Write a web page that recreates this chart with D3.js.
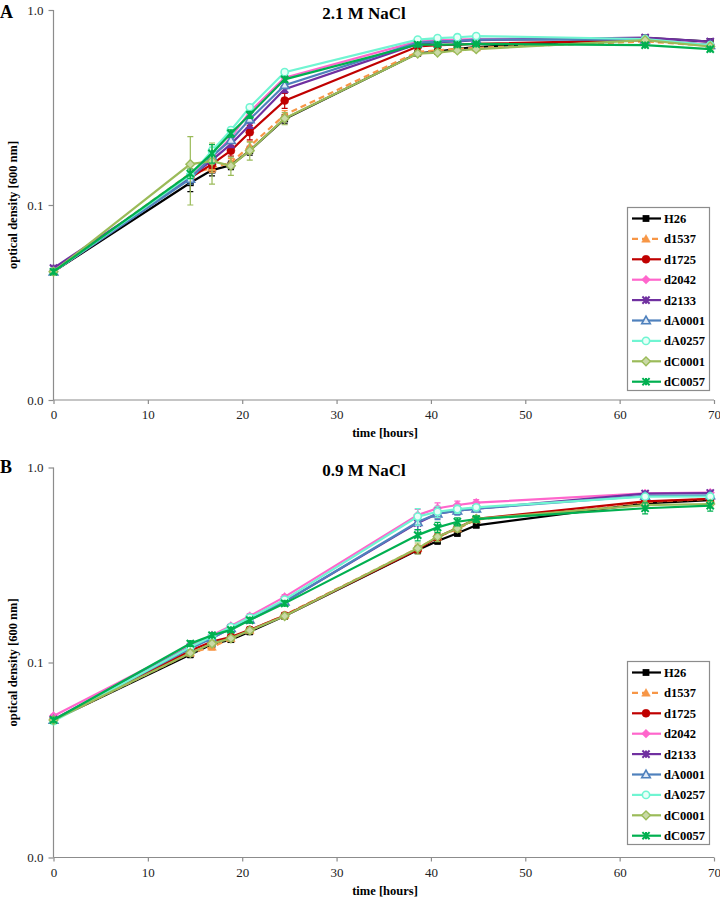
<!DOCTYPE html>
<html>
<head>
<meta charset="utf-8">
<script src="https://cdn.jsdelivr.net/npm/d3@7"></script>
<style>
  body { margin: 0; background: #fff; }
  svg { display: block; }
  text { font-family: "Liberation Serif", "Times New Roman", serif; }
</style>
</head>
<body>
<svg id="chart" width="720" height="897"></svg>
<script>
// ---------------- DATA ----------------
const times = [0, 14.5, 16.8, 18.8, 20.8, 24.5, 38.6, 40.7, 42.8, 44.8, 62.7, 69.6];
const strains = ["H26", "d1537", "d1725", "d2042", "d2133", "dA0001", "dA0257", "dC0001", "dC0057"];
const xTicks = [0, 10, 20, 30, 40, 50, 60, 70];
const yTicks = [1, 0.1, 0.01];
const yTickLabels = ["1.0", "0.1", "0.0"];
const panelLetters = ["A", "B"];
const panelTitles = ["2.1 M NaCl", "0.9 M NaCl"];

// Panel A (2.1 M NaCl) – OD600
const A_H26    = [0.0455, 0.130, 0.151, 0.160, 0.190, 0.276, 0.600, 0.612, 0.632, 0.645, 0.720, 0.688];
const A_d1537  = [0.0455, 0.145, 0.155, 0.165, 0.200, 0.290, 0.610, 0.622, 0.632, 0.640, 0.690, 0.655];
const A_d1725  = [0.0455, 0.138, 0.162, 0.190, 0.236, 0.343, 0.650, 0.660, 0.665, 0.670, 0.700, 0.660];
const A_d2042  = [0.0460, 0.140, 0.175, 0.222, 0.300, 0.450, 0.690, 0.700, 0.705, 0.710, 0.712, 0.665];
const A_d2133  = [0.0475, 0.139, 0.170, 0.205, 0.257, 0.392, 0.670, 0.685, 0.690, 0.700, 0.722, 0.688];
const A_dA0001 = [0.0455, 0.136, 0.178, 0.215, 0.275, 0.412, 0.680, 0.690, 0.695, 0.705, 0.705, 0.660];
const A_dA0257 = [0.0455, 0.142, 0.190, 0.242, 0.317, 0.480, 0.705, 0.718, 0.725, 0.735, 0.710, 0.660];
const A_dC0001 = [0.0455, 0.162, 0.168, 0.159, 0.190, 0.278, 0.598, 0.605, 0.620, 0.630, 0.700, 0.650];
const A_dC0057 = [0.0455, 0.145, 0.184, 0.233, 0.290, 0.441, 0.665, 0.665, 0.665, 0.670, 0.660, 0.630];

// Panel A – standard deviations
const A_H26_sd    = [0.001, 0.013, 0.010, 0.008, 0.010, 0.015, 0.010, 0.010, 0.010, 0.010, 0.012, 0.012];
const A_d1537_sd  = [0.001, 0.008, 0.008, 0.008, 0.012, 0.015, 0.010, 0.010, 0.010, 0.010, 0.010, 0.010];
const A_d1725_sd  = [0.001, 0.006, 0.008, 0.012, 0.020, 0.030, 0.010, 0.010, 0.010, 0.010, 0.010, 0.010];
const A_d2042_sd  = [0.001, 0.006, 0.008, 0.008, 0.010, 0.012, 0.010, 0.010, 0.010, 0.010, 0.010, 0.010];
const A_d2133_sd  = [0.001, 0.006, 0.008, 0.008, 0.010, 0.015, 0.010, 0.010, 0.010, 0.010, 0.010, 0.010];
const A_dA0001_sd = [0.001, 0.008, 0.008, 0.008, 0.010, 0.012, 0.010, 0.010, 0.010, 0.010, 0.010, 0.010];
const A_dA0257_sd = [0.001, 0.006, 0.008, 0.008, 0.010, 0.012, 0.010, 0.010, 0.010, 0.010, 0.010, 0.010];
const A_dC0001_sd = [0.001, 0.062, 0.040, 0.017, 0.020, 0.020, 0.010, 0.010, 0.010, 0.010, 0.010, 0.010];
const A_dC0057_sd = [0.001, 0.008, 0.020, 0.010, 0.012, 0.012, 0.010, 0.010, 0.010, 0.010, 0.010, 0.010];

// Panel B (0.9 M NaCl) – OD600
const B_H26    = [0.0507, 0.110, 0.124, 0.131, 0.144, 0.173, 0.377, 0.420, 0.460, 0.505, 0.655, 0.680];
const B_d1537  = [0.0507, 0.112, 0.120, 0.133, 0.146, 0.175, 0.385, 0.440, 0.485, 0.540, 0.665, 0.690];
const B_d1725  = [0.0507, 0.115, 0.128, 0.135, 0.147, 0.174, 0.380, 0.440, 0.490, 0.545, 0.670, 0.690];
const B_d2042  = [0.0532, 0.122, 0.138, 0.154, 0.173, 0.217, 0.570, 0.618, 0.642, 0.660, 0.737, 0.743];
const B_d2133  = [0.0510, 0.120, 0.134, 0.150, 0.165, 0.205, 0.520, 0.580, 0.600, 0.615, 0.735, 0.740];
const B_dA0001 = [0.0507, 0.118, 0.133, 0.150, 0.166, 0.205, 0.525, 0.580, 0.600, 0.615, 0.715, 0.720];
const B_dA0257 = [0.0500, 0.120, 0.136, 0.152, 0.170, 0.210, 0.560, 0.593, 0.612, 0.625, 0.709, 0.710];
const B_dC0001 = [0.0507, 0.112, 0.125, 0.133, 0.146, 0.173, 0.385, 0.442, 0.488, 0.545, 0.642, 0.650];
const B_dC0057 = [0.0507, 0.125, 0.138, 0.147, 0.165, 0.201, 0.450, 0.493, 0.527, 0.544, 0.618, 0.637];

// Panel B – standard deviations
const B_H26_sd    = [0.001, 0.004, 0.004, 0.004, 0.005, 0.006, 0.015, 0.015, 0.015, 0.012, 0.020, 0.020];
const B_d1537_sd  = [0.001, 0.004, 0.004, 0.004, 0.005, 0.006, 0.015, 0.015, 0.015, 0.012, 0.020, 0.020];
const B_d1725_sd  = [0.001, 0.004, 0.004, 0.004, 0.005, 0.006, 0.015, 0.015, 0.015, 0.012, 0.020, 0.020];
const B_d2042_sd  = [0.001, 0.004, 0.004, 0.004, 0.005, 0.006, 0.040, 0.040, 0.030, 0.025, 0.015, 0.015];
const B_d2133_sd  = [0.001, 0.004, 0.004, 0.004, 0.005, 0.006, 0.040, 0.030, 0.025, 0.020, 0.015, 0.015];
const B_dA0001_sd = [0.001, 0.004, 0.004, 0.004, 0.005, 0.006, 0.045, 0.040, 0.030, 0.020, 0.015, 0.015];
const B_dA0257_sd = [0.001, 0.004, 0.004, 0.004, 0.005, 0.006, 0.055, 0.040, 0.030, 0.020, 0.015, 0.015];
const B_dC0001_sd = [0.001, 0.004, 0.004, 0.004, 0.005, 0.006, 0.025, 0.025, 0.020, 0.015, 0.020, 0.020];
const B_dC0057_sd = [0.001, 0.004, 0.004, 0.004, 0.005, 0.006, 0.030, 0.030, 0.025, 0.020, 0.040, 0.040];

const panelValues = [
  [A_H26, A_d1537, A_d1725, A_d2042, A_d2133, A_dA0001, A_dA0257, A_dC0001, A_dC0057],
  [B_H26, B_d1537, B_d1725, B_d2042, B_d2133, B_dA0001, B_dA0257, B_dC0001, B_dC0057]
];
const panelErrors = [
  [A_H26_sd, A_d1537_sd, A_d1725_sd, A_d2042_sd, A_d2133_sd, A_dA0001_sd, A_dA0257_sd, A_dC0001_sd, A_dC0057_sd],
  [B_H26_sd, B_d1537_sd, B_d1725_sd, B_d2042_sd, B_d2133_sd, B_dA0001_sd, B_dA0257_sd, B_dC0001_sd, B_dC0057_sd]
];

// ---------------- STYLES ----------------
const colors = ["#000000", "#F79646", "#C00000", "#FF66CC", "#7030A0", "#4F81BD", "#70F5D2", "#9BBB59", "#00B050"];
const markers = ["square", "triangle", "circle", "diamond", "x", "triangleOpen", "circleOpen", "diamondOpen", "x"];
const dashes = [null, "6,4", null, null, null, null, null, null, null];

const svg = d3.select("#chart");
const xLeft = 53.5, xRight = 714;
const panels = [
  { top: 10, bottom: 400, legTop: 207.5, titleY: 18.5, letterY: 17.5, xlabY: 437 },
  { top: 467.5, bottom: 857.5, legTop: 661.5, titleY: 476, letterY: 472.5, xlabY: 895 }
];
const x = d3.scaleLinear().domain([0, 70]).range([xLeft, xRight]);

function drawMarker(g, type, color, cx, cy) {
  const s = 3.4;
  if (type === "square") {
    g.append("rect").attr("x", cx - s).attr("y", cy - s).attr("width", 2 * s).attr("height", 2 * s).attr("fill", color);
  } else if (type === "triangle" || type === "triangleOpen") {
    const p = [[cx, cy - 4.3], [cx + 4.3, cy + 3.3], [cx - 4.3, cy + 3.3]];
    g.append("path").attr("d", "M" + p.join("L") + "Z")
      .attr("fill", type === "triangle" ? color : "#dfe9f5")
      .attr("stroke", color).attr("stroke-width", type === "triangle" ? 0.5 : 1.6);
  } else if (type === "circle" || type === "circleOpen") {
    g.append("circle").attr("cx", cx).attr("cy", cy).attr("r", type === "circle" ? 4 : 3.6)
      .attr("fill", type === "circle" ? color : "#e8fff8")
      .attr("stroke", color).attr("stroke-width", type === "circle" ? 0.5 : 1.6);
  } else if (type === "diamond" || type === "diamondOpen") {
    const r = 4.4;
    g.append("path").attr("d", `M${cx},${cy - r}L${cx + r},${cy}L${cx},${cy + r}L${cx - r},${cy}Z`)
      .attr("fill", type === "diamond" ? color : "#c9d9a6")
      .attr("stroke", color).attr("stroke-width", type === "diamond" ? 0.5 : 1.4);
  } else if (type === "x") {
    const r = 3.6;
    g.append("path").attr("d", `M${cx - r},${cy - r}L${cx + r},${cy + r}M${cx - r},${cy + r}L${cx + r},${cy - r}M${cx},${cy - r}L${cx},${cy + r}`)
      .attr("stroke", color).attr("stroke-width", 2).attr("fill", "none");
  }
}

panels.forEach((P, pi) => {
  const y = d3.scaleLog().domain([0.01, 1]).range([P.bottom, P.top]);
  const g = svg.append("g");

  // axes
  const yAxis = d3.axisLeft(y).tickValues(yTicks).tickFormat((d, i) => yTickLabels[i]).tickSize(5).tickPadding(5);
  const ya = g.append("g").attr("transform", `translate(${xLeft},0)`).call(yAxis);
  const xAxis = d3.axisBottom(x).tickValues(xTicks).tickSize(4).tickPadding(6);
  const xa = g.append("g").attr("transform", `translate(0,${P.bottom})`).call(xAxis);
  [ya, xa].forEach(a => {
    a.attr("font-family", "Liberation Serif, serif");
    a.select(".domain").attr("stroke", "#8c8c8c").attr("stroke-width", 1.2);
    a.selectAll(".tick line").attr("stroke", "#8c8c8c").attr("stroke-width", 1.2);
    a.selectAll(".tick text").attr("font-family", "Liberation Serif, serif").attr("font-size", 13).attr("fill", "#222");
  });
  ya.select(".domain").attr("d", `M0,${P.bottom}V${P.top}`);
  xa.select(".domain").attr("d", `M${xLeft},0H${xRight}`);

  // series
  strains.forEach((name, si) => {
    const vals = panelValues[pi][si];
    const errs = panelErrors[pi][si];
    const col = colors[si];
    const sg = g.append("g");
    const pts = times.map((t, i) => ({ t, v: vals[i], e: errs[i] }));
    // error bars
    pts.forEach(d => {
      const y1 = y(d.v + d.e), y2 = y(Math.max(d.v - d.e, 0.011));
      sg.append("path")
        .attr("d", `M${x(d.t)},${y1}V${y2}M${x(d.t) - 3},${y1}H${x(d.t) + 3}M${x(d.t) - 3},${y2}H${x(d.t) + 3}`)
        .attr("stroke", col).attr("stroke-width", 1.2).attr("fill", "none");
    });
    const line = d3.line().x(d => x(d.t)).y(d => y(d.v));
    sg.append("path").datum(pts).attr("d", line).attr("fill", "none")
      .attr("stroke", col).attr("stroke-width", 2.2)
      .attr("stroke-dasharray", dashes[si]);
    pts.forEach(d => drawMarker(sg, markers[si], col, x(d.t), y(d.v)));
  });

  // titles
  g.append("text").attr("x", 364).attr("y", P.titleY).attr("text-anchor", "middle")
    .attr("font-weight", "bold").attr("font-size", 17).text(panelTitles[pi]);
  g.append("text").attr("x", 0).attr("y", P.letterY)
    .attr("font-weight", "bold").attr("font-size", 18).text(panelLetters[pi]);
  g.append("text").attr("x", 385).attr("y", P.xlabY).attr("text-anchor", "middle")
    .attr("font-weight", "bold").attr("font-size", 12.5).text("time [hours]");
  const ymid = (P.top + P.bottom) / 2;
  g.append("text").attr("transform", `translate(16.5,${ymid}) rotate(-90)`).attr("text-anchor", "middle")
    .attr("font-weight", "bold").attr("font-size", 12.5).text("optical density [600 nm]");

  // legend
  const lg = g.append("g");
  lg.append("rect").attr("x", 627.5).attr("y", P.legTop).attr("width", 82).attr("height", 183)
    .attr("fill", "#fff").attr("stroke", "#8c8c8c").attr("stroke-width", 1.2);
  strains.forEach((name, si) => {
    const ly = P.legTop + 11 + si * 20.4;
    lg.append("line").attr("x1", 632).attr("x2", 661).attr("y1", ly).attr("y2", ly)
      .attr("stroke", colors[si]).attr("stroke-width", 2.2).attr("stroke-dasharray", dashes[si]);
    drawMarker(lg, markers[si], colors[si], 646, ly);
    lg.append("text").attr("x", 664).attr("y", ly + 4.5).attr("font-weight", "bold")
      .attr("font-size", 12.5).text(name);
  });
});
</script>
</body>
</html>
